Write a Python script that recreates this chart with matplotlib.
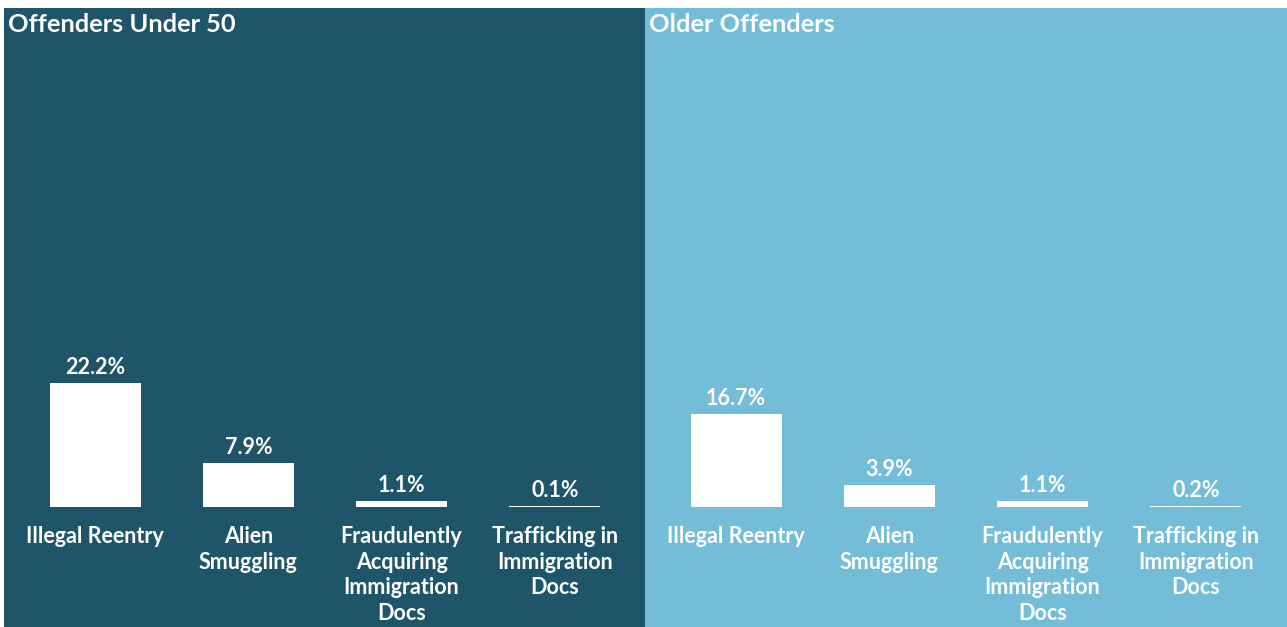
import matplotlib
matplotlib.use("Agg")
import matplotlib.pyplot as plt

plt.rcParams['font.family'] = ['Lato', 'DejaVu Sans']

categories = ["Illegal Reentry", "Alien\nSmuggling",
              "Fraudulently\nAcquiring\nImmigration\nDocs",
              "Trafficking in\nImmigration\nDocs"]
under_50 = [22.2, 7.9, 1.1, 0.1]
older = [16.7, 3.9, 1.1, 0.2]
panel_titles = ["Offenders Under 50", "Older Offenders"]
panel_colors = ["#1E5568", "#73BDD8"]

W, H = 1287, 627
fig = plt.figure(figsize=(W / 100, H / 100), dpi=100)
fig.patch.set_facecolor("white")

panels = [(4, 642, under_50), (645, 642, older)]
for (x0, w, values), title, color in zip(panels, panel_titles, panel_colors):
    ax = fig.add_axes([x0 / W, 0, w / W, 619 / H])
    ax.set_facecolor(color)
    xs = range(len(categories))
    ax.bar(xs, values, width=91 / 153, color="white", linewidth=0)
    ax.set_xlim(-0.595, 3.595)
    ax.set_ylim(-21.5, 89.4)
    for x, v in zip(xs, values):
        ax.annotate(f"{v:.1f}%", (x, v), xytext=(0, 6.5), textcoords="offset points",
                    ha="center", va="baseline", color="white",
                    fontsize=15.5, fontweight="bold")
        ax.annotate(categories[x], (x, 0), xytext=(0, -14), textcoords="offset points",
                    ha="center", va="top", color="white", fontsize=15.5,
                    fontweight="bold", linespacing=1.26)
    ax.text(0.007, 0.992, title, transform=ax.transAxes, ha="left", va="top",
            color="white", fontsize=18.3, fontweight="bold")
    for s in ax.spines.values():
        s.set_visible(False)
    ax.set_xticks([])
    ax.set_yticks([])

fig.savefig("out.png", dpi=100, facecolor="white")
